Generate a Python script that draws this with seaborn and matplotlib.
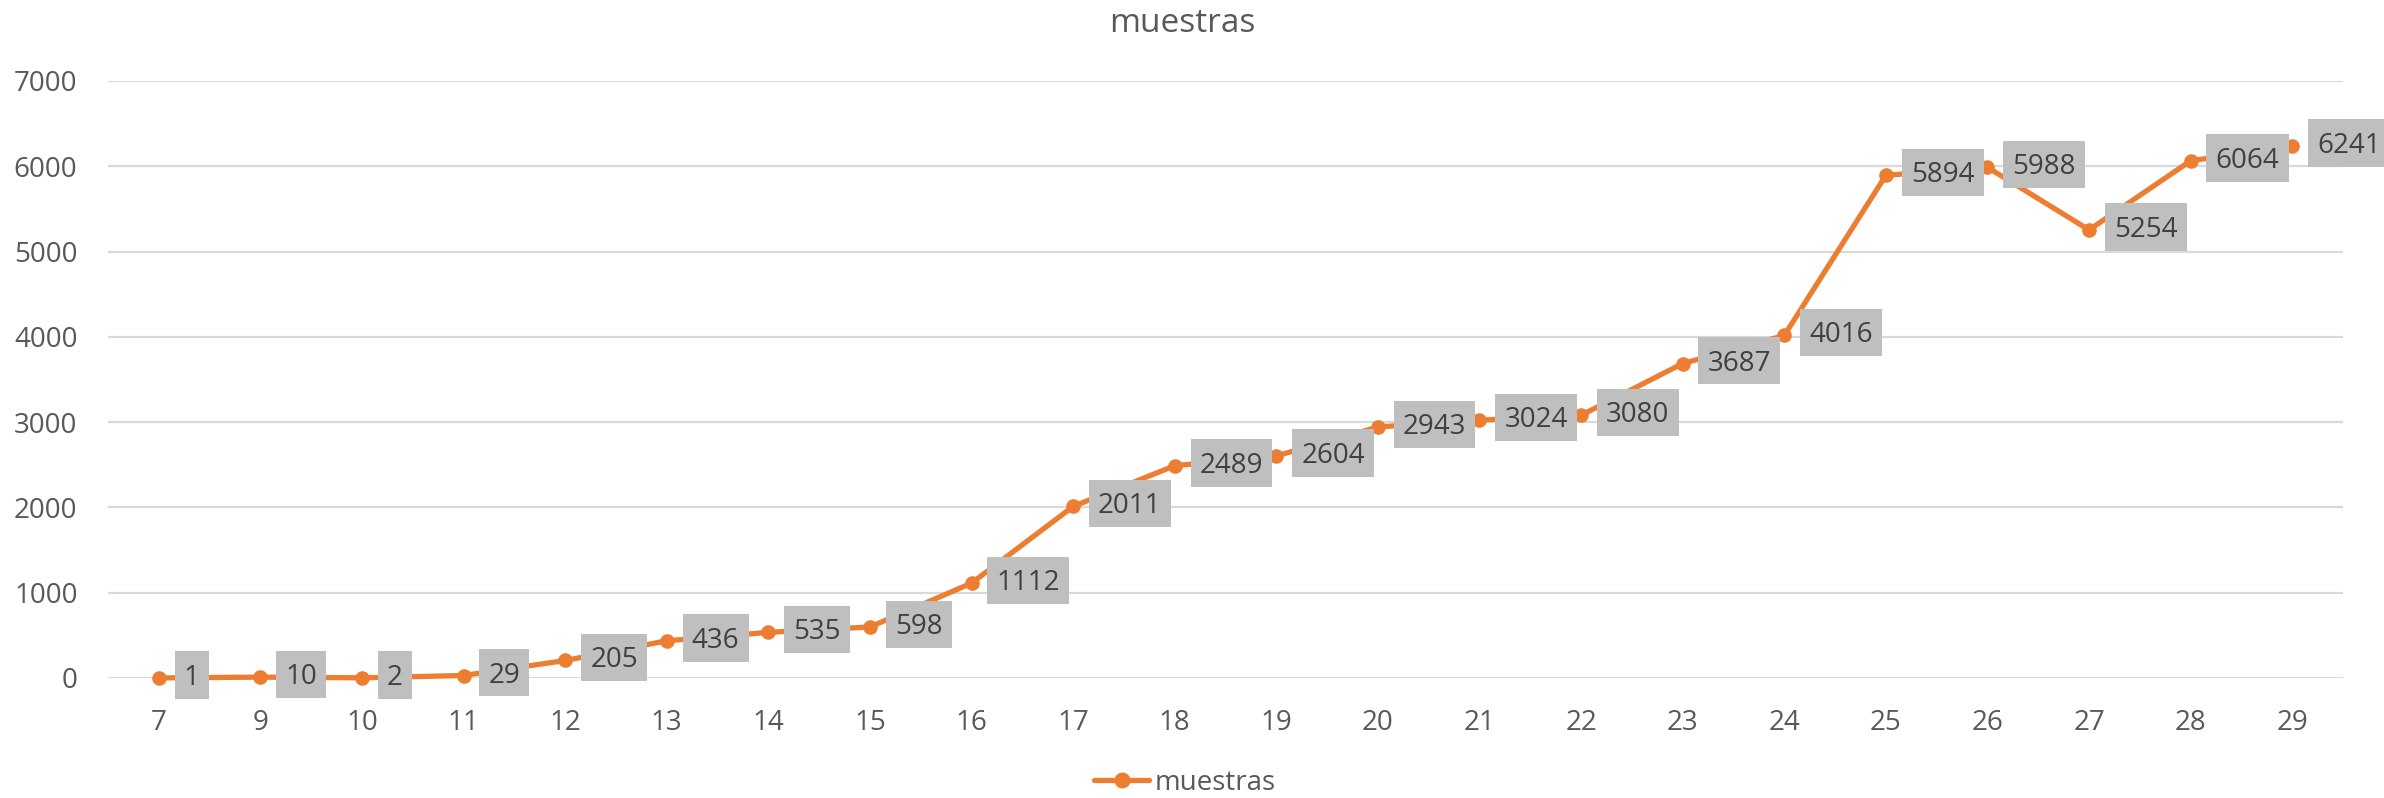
import matplotlib
matplotlib.use("Agg")
import matplotlib.pyplot as plt
import seaborn as sns
import pandas as pd
from matplotlib.lines import Line2D
from matplotlib.path import Path

# data
dias = ['7', '9', '10', '11', '12', '13', '14', '15', '16', '17', '18',
        '19', '20', '21', '22', '23', '24', '25', '26', '27', '28', '29']
muestras = [1, 10, 2, 29, 205, 436, 535, 598, 1112, 2011, 2489,
            2604, 2943, 3024, 3080, 3687, 4016, 5894, 5988, 5254, 6064, 6241]
y_ticks = [0, 1000, 2000, 3000, 4000, 5000, 6000, 7000]

naranja = '#ED7D31'
gris_txt = '#595959'


def caja(x0, y0, width, height, mutation_size):
    # grey label box, taller than the text like Excel's
    padx = 0.33 * mutation_size
    mid = y0 + 0.6 * height
    half = 0.85 * mutation_size
    return Path([(x0 - padx, mid - half), (x0 + width + padx, mid - half),
                 (x0 + width + padx, mid + half), (x0 - padx, mid + half),
                 (x0 - padx, mid - half)], closed=True)


sns.set_theme(style='white')
plt.rcParams['font.family'] = ['Open Sans', 'DejaVu Sans']

df = pd.DataFrame({'dia': dias, 'muestras': muestras})
df['pos'] = range(len(df))

fig = plt.figure(figsize=(23.84, 7.98), dpi=100)
ax = fig.add_axes([0.0453, 0.1504, 0.9375, 0.7481])

sns.lineplot(data=df, x='pos', y='muestras', ax=ax, color=naranja,
             linewidth=3.8, marker='o', markersize=10.5,
             markeredgecolor=naranja, markeredgewidth=0, legend=False)
for ln in ax.lines:
    ln.set_clip_on(False)

# data labels in grey boxes
for p, v in zip(df['pos'], df['muestras']):
    ax.annotate(str(v), (p, v), xytext=(18, 0), textcoords='offset points',
                ha='left', va='center', fontsize=20, color='#404040',
                annotation_clip=False, zorder=5,
                bbox=dict(boxstyle=caja, fc='#BFBFBF', ec='none'))

ax.set_xlim(-0.5, len(dias) - 0.5)
ax.set_ylim(0, 7000)
ax.set_xticks(df['pos'])
ax.set_xticklabels(dias)
ax.set_yticks(y_ticks)
ax.tick_params(axis='both', labelsize=20, colors=gris_txt, length=0)
ax.tick_params(axis='y', pad=22)
ax.tick_params(axis='x', pad=22)
ax.yaxis.grid(True, color='#D9D9D9', linewidth=1.6)
ax.set_axisbelow(True)
sns.despine(ax=ax, left=True, bottom=True, top=True, right=True)
ax.set_xlabel('')
ax.set_ylabel('')

fig.text(0.4958, 1 - 24 / 798, 'muestras', ha='center', va='center',
         fontsize=24, color=gris_txt)

handle = Line2D([], [], color=naranja, linewidth=3.8, marker='o', markersize=10.5)
fig.legend([handle], ['muestras'], loc='center', bbox_to_anchor=(0.497, 1 - 783 / 798),
           frameon=False, fontsize=20, handlelength=2.0, handletextpad=0.2,
           labelcolor=gris_txt, numpoints=1)

fig.savefig('out.png', dpi=100)
